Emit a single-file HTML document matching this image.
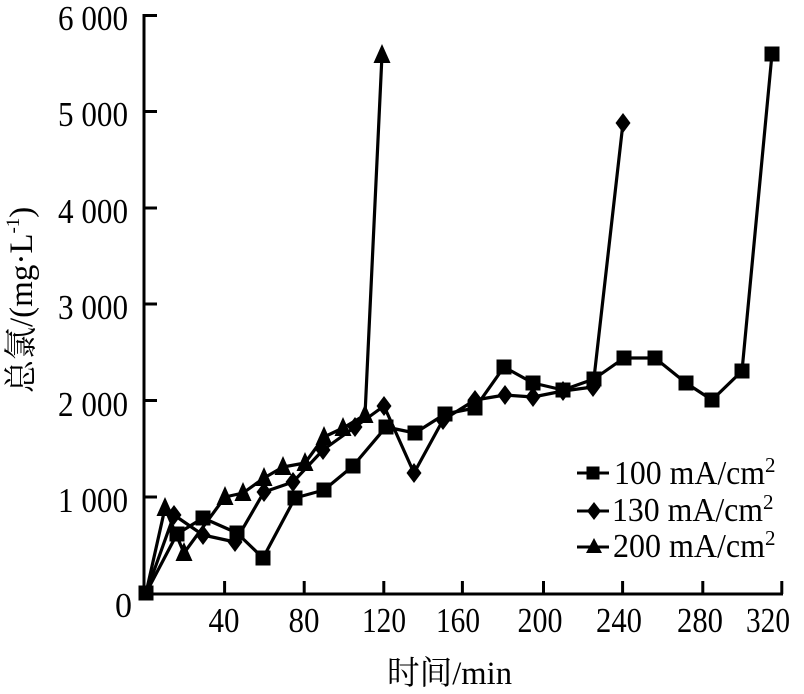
<!DOCTYPE html>
<html>
<head>
<meta charset="utf-8">
<style>
  html, body { margin: 0; padding: 0; background: #fff; }
  svg { display: block; }
  text { font-family: "Liberation Serif", "Noto Serif CJK SC", serif; fill: #000; }
</style>
</head>
<body>
<svg width="804" height="694" viewBox="0 0 804 694" xmlns="http://www.w3.org/2000/svg">
  <defs>
    <rect id="sq" x="-7.5" y="-7.5" width="15" height="15" fill="#000"/>
    <polygon id="dm" points="0,-10 7.5,0 0,10 -7.5,0" fill="#000"/>
    <polygon id="tr" points="0,-11 8.5,8 -8.5,8" fill="#000"/>
    <rect id="sqL" x="-6.5" y="-6.5" width="13" height="13" fill="#000"/>
    <polygon id="dmL" points="0,-9 7,0 0,9 -7,0" fill="#000"/>
    <polygon id="trL" points="0,-9 8,6 -8,6" fill="#000"/>
  </defs>

  <!-- Axes -->
  <g stroke="#000" stroke-width="3" fill="none">
    <line x1="144" y1="14" x2="144" y2="595.5"/>
    <line x1="142.5" y1="594" x2="783" y2="594"/>
    <line x1="144" y1="15.5" x2="157" y2="15.5"/>
    <line x1="144" y1="111.5" x2="157" y2="111.5"/>
    <line x1="144" y1="208" x2="157" y2="208"/>
    <line x1="144" y1="304" x2="157" y2="304"/>
    <line x1="144" y1="400.5" x2="157" y2="400.5"/>
    <line x1="144" y1="497" x2="157" y2="497"/>
    <line x1="224.6" y1="594" x2="224.6" y2="581"/>
    <line x1="304.2" y1="594" x2="304.2" y2="581"/>
    <line x1="383.8" y1="594" x2="383.8" y2="581"/>
    <line x1="462.4" y1="594" x2="462.4" y2="581"/>
    <line x1="543.5" y1="594" x2="543.5" y2="581"/>
    <line x1="622.6" y1="594" x2="622.6" y2="581"/>
    <line x1="702.8" y1="594" x2="702.8" y2="581"/>
    <line x1="781.8" y1="594" x2="781.8" y2="581"/>
  </g>

  <!-- Y tick labels -->
  <g font-size="35" text-anchor="end">
    <text x="128" y="30" textLength="70" lengthAdjust="spacingAndGlyphs">6 000</text>
    <text x="128" y="126" textLength="70" lengthAdjust="spacingAndGlyphs">5 000</text>
    <text x="128" y="223" textLength="70" lengthAdjust="spacingAndGlyphs">4 000</text>
    <text x="128" y="319" textLength="70" lengthAdjust="spacingAndGlyphs">3 000</text>
    <text x="128" y="416" textLength="70" lengthAdjust="spacingAndGlyphs">2 000</text>
    <text x="128" y="512" textLength="70" lengthAdjust="spacingAndGlyphs">1 000</text>
    <text x="132" y="617" textLength="17" lengthAdjust="spacingAndGlyphs">0</text>
  </g>

  <!-- X tick labels -->
  <g font-size="35" text-anchor="middle">
    <text x="224" y="632" textLength="31" lengthAdjust="spacingAndGlyphs">40</text>
    <text x="304" y="632" textLength="31" lengthAdjust="spacingAndGlyphs">80</text>
    <text x="384" y="632" textLength="44" lengthAdjust="spacingAndGlyphs">120</text>
    <text x="458" y="632" textLength="44" lengthAdjust="spacingAndGlyphs">160</text>
    <text x="540" y="632" textLength="45" lengthAdjust="spacingAndGlyphs">200</text>
    <text x="619" y="632" textLength="46" lengthAdjust="spacingAndGlyphs">240</text>
    <text x="700" y="632" textLength="46" lengthAdjust="spacingAndGlyphs">280</text>
    <text x="768" y="632" textLength="44" lengthAdjust="spacingAndGlyphs">320</text>
  </g>

  <!-- Axis titles -->
  <text x="387" y="684" font-size="33" textLength="125" lengthAdjust="spacingAndGlyphs">时间/min</text>
  <text transform="translate(32,393) rotate(-90)" font-size="33">总氯/(mg·L<tspan font-size="19" dy="-13">-1</tspan><tspan dy="13">)</tspan></text>

  <!-- Series lines -->
  <g stroke="#000" stroke-width="3.2" fill="none" stroke-linejoin="round">
    <polyline points="146,593 177,534 203,518 237,533 263,558 295,498 324,490 353,466 386,427 415,433 445,414 475,408 504,367 533,383 563,390 594,379 624,358 655,358 686,383 712,400 742,371 772,54"/>
    <polyline points="146,593 174,515 203,535 235,542 264,492 293,482 323,450 355,427 384,406 414,473 443,420 475,400 505,395 533,397 563,391 593,387 623,123"/>
    <polyline points="146,593 165,508 184,553 225,497 243,493 264,478 283,467 305,463 324,437 343,428 365,415 382,55"/>
  </g>

  <!-- Triangles (200) -->
  <g>
    <use href="#tr" x="165" y="508"/>
    <use href="#tr" x="184" y="553"/>
    <use href="#tr" x="225" y="497"/>
    <use href="#tr" x="243" y="493"/>
    <use href="#tr" x="264" y="478"/>
    <use href="#tr" x="283" y="467"/>
    <use href="#tr" x="305" y="463"/>
    <use href="#tr" x="324" y="437"/>
    <use href="#tr" x="343" y="428"/>
    <use href="#tr" x="365" y="415"/>
    <use href="#tr" x="382" y="55"/>
  </g>

  <!-- Diamonds (130) -->
  <g>
    <use href="#dm" x="174" y="515"/>
    <use href="#dm" x="203" y="535"/>
    <use href="#dm" x="235" y="542"/>
    <use href="#dm" x="264" y="492"/>
    <use href="#dm" x="293" y="482"/>
    <use href="#dm" x="323" y="450"/>
    <use href="#dm" x="355" y="427"/>
    <use href="#dm" x="384" y="406"/>
    <use href="#dm" x="414" y="473"/>
    <use href="#dm" x="443" y="420"/>
    <use href="#dm" x="475" y="400"/>
    <use href="#dm" x="505" y="395"/>
    <use href="#dm" x="533" y="397"/>
    <use href="#dm" x="563" y="391"/>
    <use href="#dm" x="593" y="387"/>
    <use href="#dm" x="623" y="123"/>
  </g>

  <!-- Squares (100) -->
  <g>
    <use href="#sq" x="146" y="593"/>
    <use href="#sq" x="177" y="534"/>
    <use href="#sq" x="203" y="518"/>
    <use href="#sq" x="237" y="533"/>
    <use href="#sq" x="263" y="558"/>
    <use href="#sq" x="295" y="498"/>
    <use href="#sq" x="324" y="490"/>
    <use href="#sq" x="353" y="466"/>
    <use href="#sq" x="386" y="427"/>
    <use href="#sq" x="415" y="433"/>
    <use href="#sq" x="445" y="414"/>
    <use href="#sq" x="475" y="408"/>
    <use href="#sq" x="504" y="367"/>
    <use href="#sq" x="533" y="383"/>
    <use href="#sq" x="563" y="390"/>
    <use href="#sq" x="594" y="379"/>
    <use href="#sq" x="624" y="358"/>
    <use href="#sq" x="655" y="358"/>
    <use href="#sq" x="686" y="383"/>
    <use href="#sq" x="712" y="400"/>
    <use href="#sq" x="742" y="371"/>
    <use href="#sq" x="772" y="54"/>
  </g>

  <!-- Legend -->
  <g stroke="#000" stroke-width="3">
    <line x1="577" y1="473" x2="609" y2="473"/>
    <line x1="577" y1="511" x2="609" y2="511"/>
    <line x1="577" y1="547" x2="609" y2="547"/>
  </g>
  <use href="#sqL" x="593" y="473"/>
  <use href="#dmL" x="594" y="511"/>
  <use href="#trL" x="594" y="547"/>
  <g font-size="34">
    <text x="614" y="484"><tspan textLength="151" lengthAdjust="spacingAndGlyphs">100 mA/cm</tspan><tspan font-size="21" dy="-12">2</tspan></text>
    <text x="612" y="521"><tspan textLength="151" lengthAdjust="spacingAndGlyphs">130 mA/cm</tspan><tspan font-size="21" dy="-12">2</tspan></text>
    <text x="613" y="557"><tspan textLength="152" lengthAdjust="spacingAndGlyphs">200 mA/cm</tspan><tspan font-size="21" dy="-12">2</tspan></text>
  </g>
</svg>
</body>
</html>
